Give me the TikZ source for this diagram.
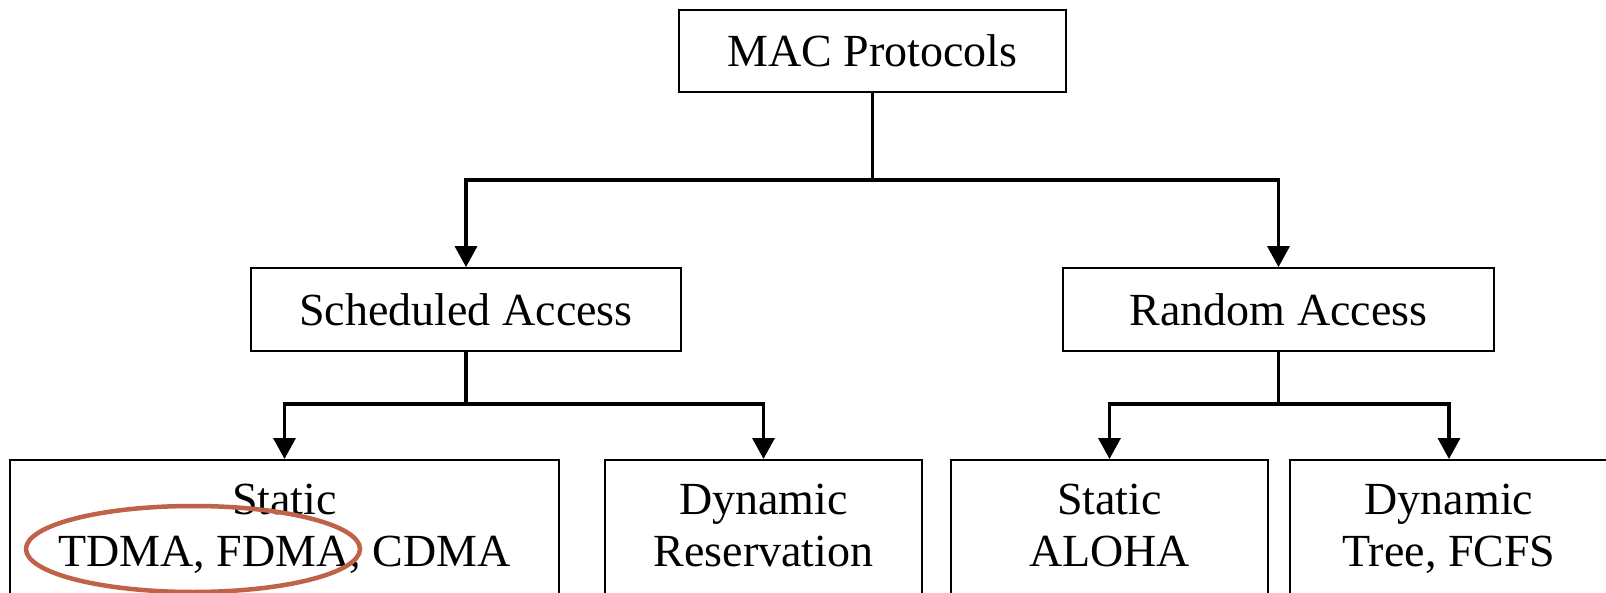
\documentclass[tikz,border=0pt]{standalone}
\usepackage{fontspec}
\setmainfont{Liberation Serif}
\usetikzlibrary{arrows.meta,shapes.geometric}
\definecolor{ringcol}{RGB}{191,98,72}
\tikzset{
  box/.style={draw=black, line width=1.8pt, inner sep=0pt, font=\fontsize{46}{52}\selectfont},
  lowbox/.style={draw=black, line width=1.8pt, inner sep=0pt, anchor=north, minimum height=170pt},
  boxtext/.style={inner sep=0pt, align=center, anchor=north, font=\fontsize{46}{52}\selectfont},
  conn/.style={line width=3.4pt},
  arr/.style={line width=3.4pt, -{Triangle[width=22pt,length=21pt]}},
  ring/.style={draw=ringcol, line width=4.5pt, ellipse, inner sep=0pt}
}
\begin{document}
\begin{tikzpicture}[x=1pt,y=-1pt]
\useasboundingbox (0,0) rectangle (1606,593);
\clip (0,0) rectangle (1606,593);
\fill[white] (0,0) rectangle (1606,593);
% top and middle boxes
\node[box, minimum width=387pt, minimum height=82pt] (mac) at (872.5,51) {MAC Protocols};
\node[box, minimum width=430pt, minimum height=83pt] (sched) at (466,309.5) {Scheduled Access};
\node[box, minimum width=431pt, minimum height=83pt] (rand) at (1278.5,309.5) {Random Access};
% bottom boxes
\node[lowbox, minimum width=549pt] (sstat) at (284.5,459) {};
\node[lowbox, minimum width=317pt] (sdyn) at (763.5,459) {};
\node[lowbox, minimum width=317pt] (rstat) at (1109.5,459) {};
\node[lowbox, minimum width=318pt] (rdyn) at (1449,459) {};
\node[boxtext] (tsstat) at (284.5,484) {Static\\TDMA, FDMA, CDMA};
\node[boxtext] (tsdyn) at (763.5,484) {Dynamic\\Reservation};
\node[boxtext] (trstat) at (1109.5,484) {Static\\ALOHA};
\node[boxtext] (trdyn) at (1449,484) {Dynamic\\Tree, FCFS};
% junctions
\coordinate (j1) at (872.5,180);
\coordinate (j2) at (466,404);
\coordinate (j3) at (1278.5,404);
\draw[conn] (mac.south) -- (j1);
\draw[arr] (j1) -| (sched.north);
\draw[arr] (j1) -| (rand.north);
\draw[conn] (sched.south) -- (j2);
\draw[arr] (j2) -| (sstat.north);
\draw[arr] (j2) -| (sdyn.north);
\draw[conn] (rand.south) -- (j3);
\draw[arr] (j3) -| (rstat.north);
\draw[arr] (j3) -| (rdyn.north);
% highlight ring
\node[ring, minimum width=334pt, minimum height=86pt] (hl) at (193,549) {};
\end{tikzpicture}
\end{document}
